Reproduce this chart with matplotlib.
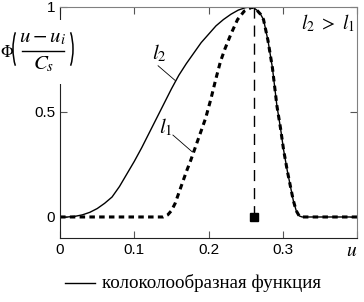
import matplotlib
matplotlib.use('Agg')
import matplotlib.pyplot as plt
from matplotlib.patches import Arc, Rectangle

plt.rcParams['mathtext.fontset'] = 'stix'
plt.rcParams['font.family'] = ['Liberation Sans', 'DejaVu Sans']

# кривая l2 (сплошная)
u_l2 = [0.0, 0.01, 0.02, 0.03, 0.04, 0.05, 0.06, 0.07, 0.08, 0.09, 0.1, 0.11, 0.12, 0.13,
        0.14, 0.15, 0.16, 0.17, 0.18, 0.19, 0.2, 0.21, 0.22, 0.23, 0.24, 0.25, 0.259,
        0.265, 0.27, 0.274, 0.28, 0.286, 0.292, 0.297, 0.301, 0.306, 0.31, 0.314, 0.318,
        0.322, 0.326, 0.35, 0.4]
f_l2 = [0.0, 0.0, 0.003, 0.01, 0.022, 0.04, 0.065, 0.095, 0.145, 0.205, 0.265, 0.33, 0.4, 0.47,
        0.54, 0.61, 0.675, 0.73, 0.78, 0.83, 0.87, 0.91, 0.94, 0.965, 0.985, 0.997, 1.0,
        0.985, 0.965, 0.94, 0.84, 0.71, 0.53, 0.42, 0.32, 0.22, 0.15, 0.08, 0.03,
        0.005, 0.0, 0.0, 0.0]
# кривая l1 (пунктир)
u_l1 = [0.0, 0.139, 0.145, 0.15, 0.155, 0.16, 0.165, 0.17, 0.176, 0.182, 0.189, 0.196,
        0.203, 0.21, 0.216, 0.222, 0.23, 0.239, 0.248, 0.259,
        0.265, 0.27, 0.274, 0.28, 0.286, 0.292, 0.297, 0.301, 0.306, 0.31, 0.314, 0.318,
        0.322, 0.326, 0.35, 0.4]
f_l1 = [0.0, 0.0, 0.01, 0.03, 0.065, 0.115, 0.165, 0.215, 0.27, 0.33, 0.40, 0.47,
        0.56, 0.66, 0.74, 0.80, 0.87, 0.94, 0.98, 1.0,
        0.985, 0.965, 0.94, 0.84, 0.71, 0.53, 0.42, 0.32, 0.22, 0.15, 0.08, 0.03,
        0.005, 0.0, 0.0, 0.0]
u_peak = 0.261

x_ticks = [0, 0.1, 0.2, 0.3, 0.4]
x_labels = ['0', '0.1', '0.2', '0.3', '$u$']
y_ticks = [0, 0.5, 1]
y_labels = ['0', '0.5', '1']

W, H = 364, 302
fig = plt.figure(figsize=(W / 100, H / 100), dpi=100)
ax = fig.add_axes([0.165, 0.212, 0.816, 0.765])

ax.plot(u_l2, f_l2, color='black', lw=1.0)
ax.plot(u_l1, f_l1, color='black', lw=2.2, linestyle=(0, (1.8, 1.4)))
ax.plot([u_peak, u_peak], [1, 0], color='black', lw=1.0, linestyle=(0, (8, 5)))
ax.plot([u_peak], [0], marker='s', color='black', markersize=6)

ax.set_xlim(0, 0.4)
ax.set_ylim(-0.1, 1)
ax.set_xticks(x_ticks)
ax.set_xticklabels(x_labels, fontsize=11)
ax.get_xticklabels()[-1].set_fontsize(14)
ax.get_xticklabels()[-1].set_horizontalalignment('right')
ax.set_yticks(y_ticks)
ax.set_yticklabels(y_labels, fontsize=11)
ax.tick_params(direction='in', length=5, top=True, right=True, color='#555555')
for s in ['top', 'right']:
    ax.spines[s].set_color('#808080')
for s in ['left', 'bottom']:
    ax.spines[s].set_color('#222222')

# подписи кривых
ax.text(0.124, 0.75, '$l_2$', fontsize=15)
ax.plot([0.132, 0.155], [0.72, 0.65], color='black', lw=0.6)
ax.text(0.133, 0.40, '$l_1$', fontsize=15)
ax.plot([0.152, 0.178], [0.39, 0.31], color='black', lw=0.6)
ax.text(0.325, 0.895, r'$l_2\ >\ l_1$', fontsize=14)

# подпись оси y: Ф((u-ui)/Cs)
def fx(px):
    return px / W

def fy(py):
    return 1 - py / H

# белый фон под подписью (разрывает левую ось)
fig.add_artist(Rectangle((fx(0), fy(84)), 77 / W, 64 / H, transform=fig.transFigure,
                         facecolor='white', edgecolor='none', zorder=1.5))
fig.text(fx(0), fy(52), r'$\Phi$', fontsize=12, va='center', ha='left', zorder=3)
fig.add_artist(Arc((fx(27), fy(49)), 28 / W, 60 / H, theta1=120, theta2=240,
                   transform=fig.transFigure, color='black', lw=1.1, zorder=2))
fig.add_artist(Arc((fx(59), fy(49)), 28 / W, 60 / H, theta1=-60, theta2=60,
                   transform=fig.transFigure, color='black', lw=1.1, zorder=2))
fig.text(fx(43), fy(37), r'$u-u_i$', fontsize=15, va='center', ha='center', zorder=3)
fig.lines.append(plt.Line2D([fx(22), fx(64)], [fy(51), fy(51)],
                            transform=fig.transFigure, color='black', lw=1.0, zorder=2))
fig.text(fx(44), fy(64), r'$C_s$', fontsize=15, va='center', ha='center', zorder=3)

# легенда
fig.lines.append(plt.Line2D([fx(65), fx(95)], [fy(283), fy(283)],
                            transform=fig.transFigure, color='black', lw=1.0))
fig.text(fx(102), fy(283), 'колоколообразная функция', fontsize=13.7,
         family=['Liberation Serif', 'DejaVu Serif'], va='center')

fig.savefig('out.png', dpi=100)
